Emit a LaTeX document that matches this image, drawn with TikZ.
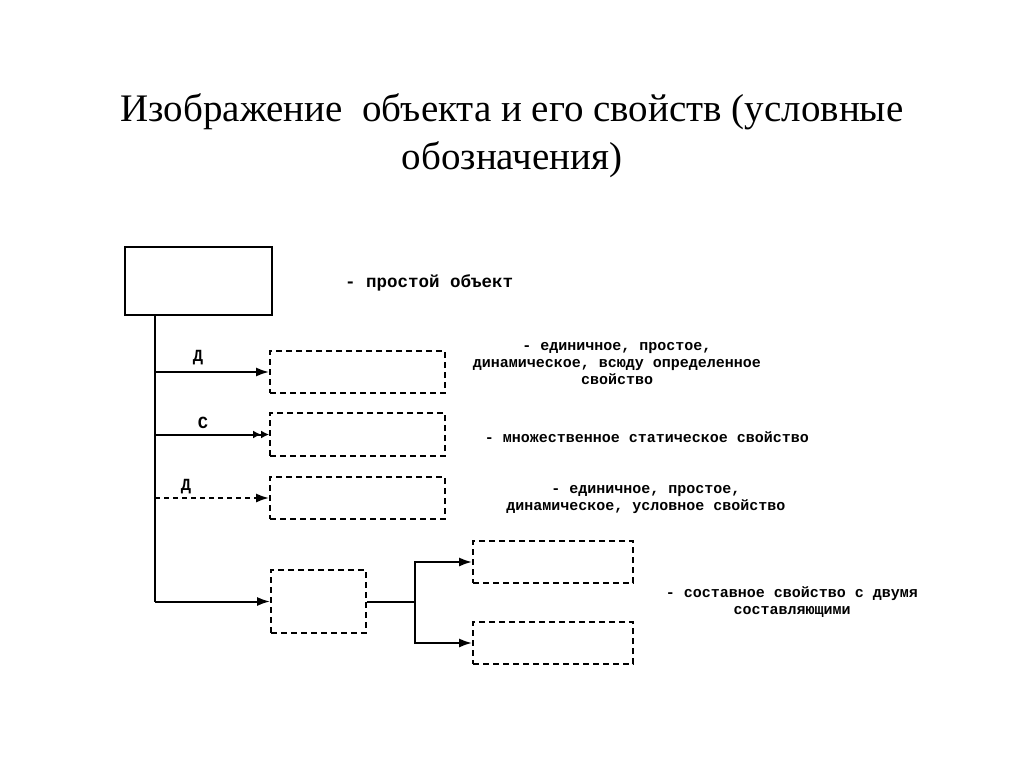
\documentclass[tikz,border=0pt]{standalone}
\usepackage{fontspec}
\setmainfont{Liberation Serif}
\newfontfamily\notefont{Liberation Mono}
\usetikzlibrary{positioning,arrows.meta}

\tikzset{
  objbox/.style={draw, line width=2.2pt, minimum width=147pt, minimum height=68pt, inner sep=0pt},
  propbox/.style={draw, line width=1.8pt, dash pattern=on 6pt off 4pt, inner sep=0pt},
  link/.style={line width=2pt},
  single/.style={-{Latex[length=13pt,width=9pt]}},
  multi/.style={-{Latex[length=8pt,width=8pt]Latex[length=8pt,width=8pt]}},
  note/.style={font=\notefont\bfseries\fontsize{15}{17}\selectfont, align=center, inner sep=0pt},
  mark label/.style={font=\notefont\bfseries\fontsize{17}{19}\selectfont, inner sep=0pt}
}

\begin{document}
\begin{tikzpicture}[x=1pt, y=-1pt]
 \useasboundingbox (0,0) rectangle (1024,768);

 %Title
 \node (title) [font=\fontsize{39}{48}\selectfont, align=center] at (512,136)
   {Изображение\ \ объекта и его свойств (условные\\обозначения)};

 %Boxes
 \node (object) [objbox] at (198.5,281) {};
 \node (single) [propbox, minimum width=175pt, minimum height=42pt] at (357.5,372) {};
 \node (multiple) [propbox, minimum width=175pt, minimum height=43pt] at (357.5,434.5) {};
 \node (conditional) [propbox, minimum width=175pt, minimum height=42pt] at (357.5,498) {};
 \node (compound) [propbox, minimum width=95pt, minimum height=63pt] at (318.5,601.5) {};
 \node (partA) [propbox, minimum width=160pt, minimum height=42pt] at (553,562) {};
 \node (partB) [propbox, minimum width=160pt, minimum height=42pt] at (553,643) {};

 %Coordinates
 \coordinate (trunkTop) at (155,315);
 \coordinate (trunkBottom) at (155,601.5);
 \coordinate (split) at (415,601.5);

 %Connectors
 \draw[link] (trunkTop) -- (trunkBottom);
 \draw[link, single] (trunkTop |- single.west) -- (single.west);
 \draw[link, multi] (trunkTop |- multiple.west) -- (multiple.west);
 \draw[link, single, dash pattern=on 5pt off 4pt] (trunkTop |- conditional.west) -- (conditional.west);
 \draw[link, single] (trunkBottom) -- (compound.west);
 \draw[link] (compound.east) -- (split);
 \draw[link, single] (split) |- (partA.west);
 \draw[link, single] (split) |- (partB.west);

 %Labels of connectors
 \node (labelD1) [mark label] at (198,358) {Д};
 \node (labelC) [mark label] at (203,423) {С};
 \node (labelD2) [mark label] at (186,487) {Д};

 %Names
 \node (objectNote) [note, font=\notefont\bfseries\fontsize{17.5}{19}\selectfont, anchor=west] at (345,283) {- простой объект};
 \node (singleNote) [note] at (617,364) {- единичное, простое,\\динамическое, всюду определенное\\свойство};
 \node (multipleNote) [note] at (647,437) {- множественное статическое свойство};
 \node (conditionalNote) [note] at (646,499.5) {- единичное, простое,\\динамическое, условное свойство};
 \node (compoundNote) [note] at (792,602.5) {- составное свойство с двумя\\составляющими};

\end{tikzpicture}
\end{document}
